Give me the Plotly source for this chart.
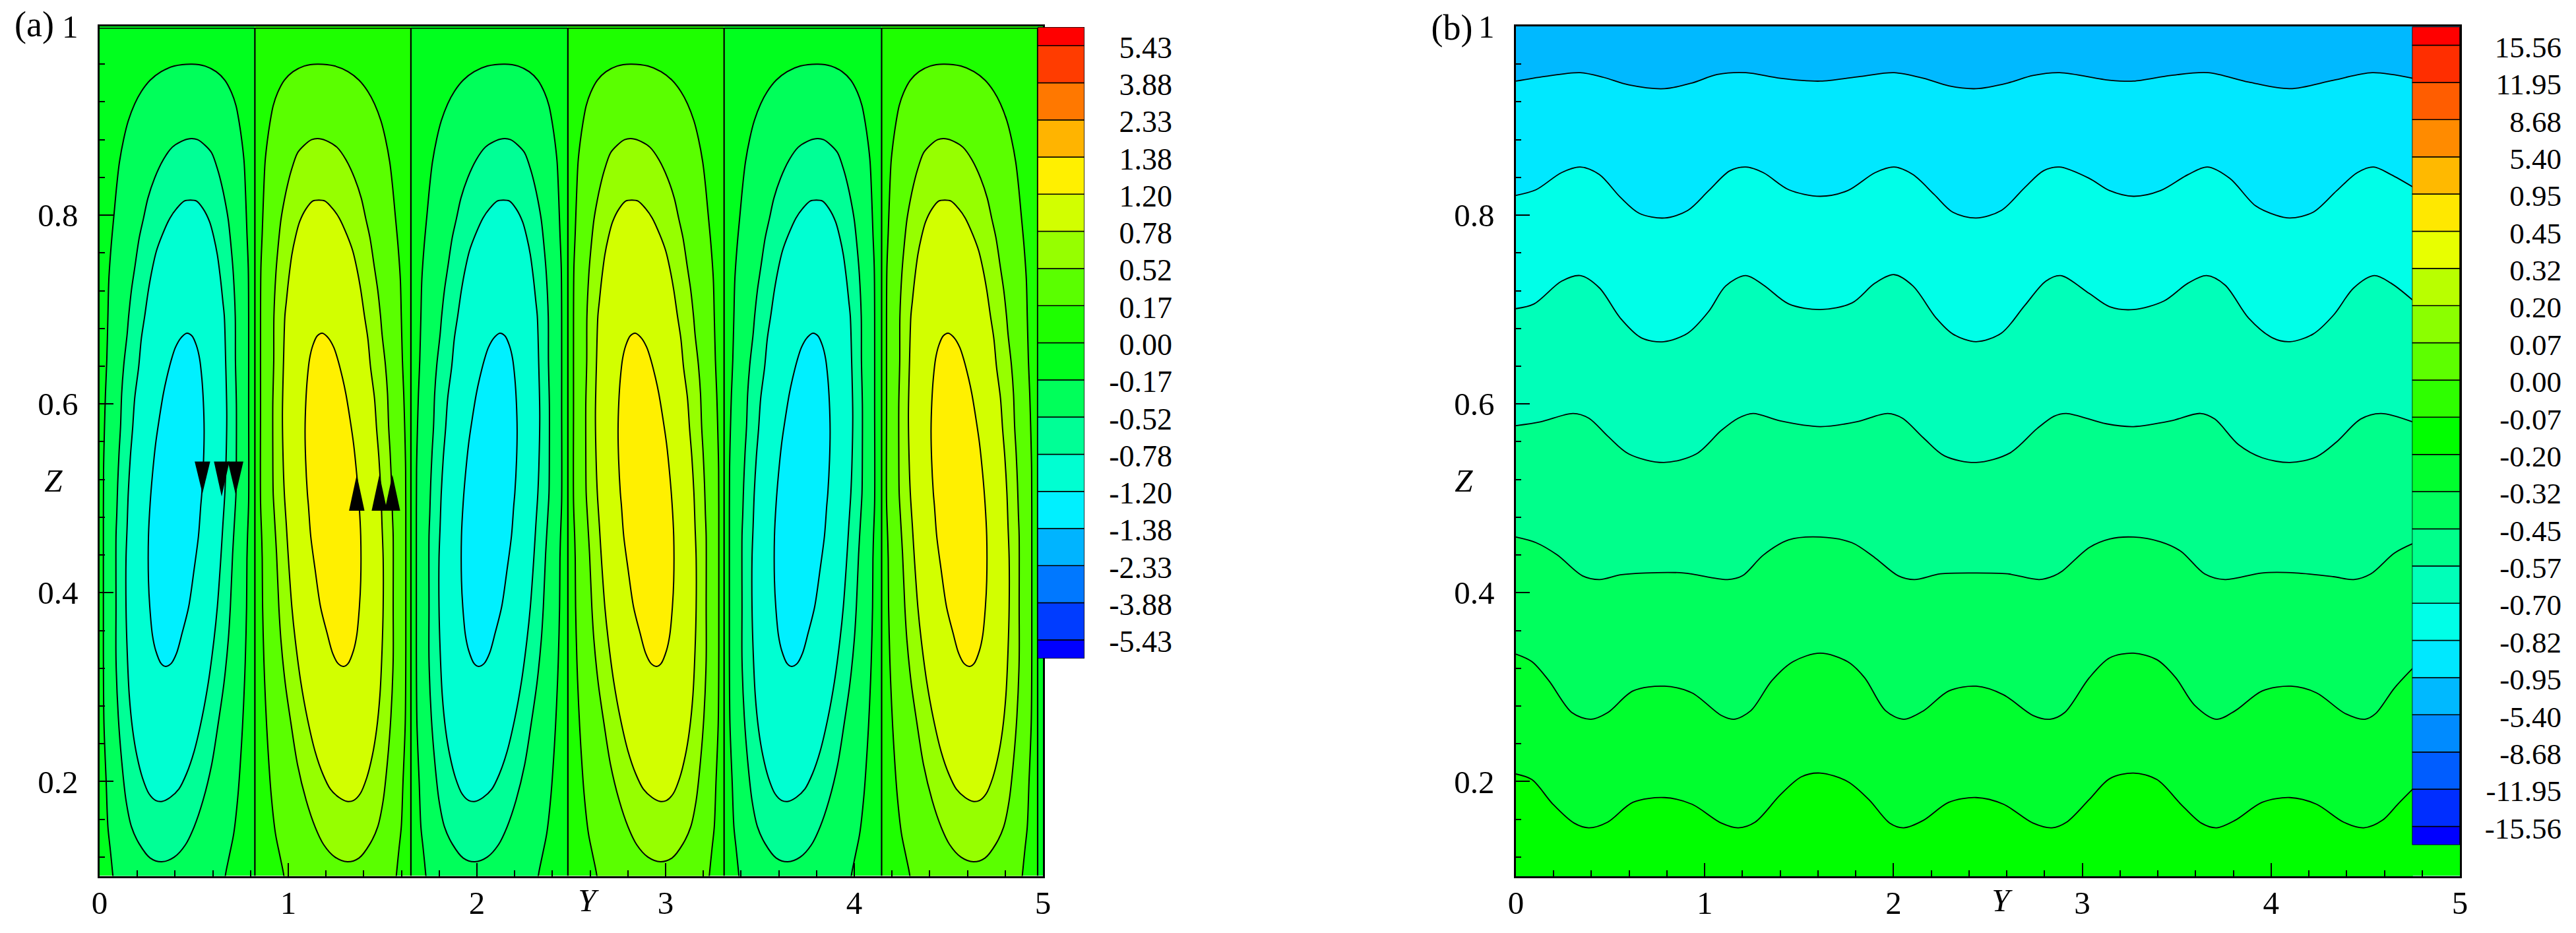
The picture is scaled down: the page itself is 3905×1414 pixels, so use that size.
import plotly.graph_objects as go

W, H = 3905, 1414

# ---------- panel (a): contour outlines (Y, Z) ----------
CELL_EDGES_A = [0.0, 0.823, 1.650, 2.482, 3.31, 4.145, 4.972, 5.0]
CELL_SHIFT_A = [0.0, 1.659, 3.318]
ZERO_TOP_A = 0.998

NEG_A = [(.076,.085),(.070,.101),(.056,.129),(.044,.152),(.035,.199),(.023,.262),(.020,.339),(.020,.385),(.020,.450),(.021,.530),(.026,.576),
         (.031,.611),(.038,.646),(.044,.693),(.049,.732),(.061,.767),(.076,.800),(.091,.832),(.105,.856),(.128,.881),(.152,.900),(.186,.918),
         (.221,.931),(.268,.943),(.326,.952),(.396,.958),(.490,.960),(.559,.958),(.618,.952),(.664,.943),(.699,.930),(.723,.916),(.740,.898),
         (.755,.877),(.766,.856),(.774,.821),(.781,.781),(.788,.744),(.790,.693),(.790,.600),(.790,.497),(.784,.460),(.781,.436),(.779,.385),
         (.772,.327),(.763,.281),(.752,.239),(.734,.187),(.711,.145),(.688,.122),(.667,.101),(.660,.085)]
NEG_B = [(.329,.115),(.268,.119),(.210,.134),(.169,.152),(.140,.180),(.117,.222),(.099,.269),(.087,.329),(.087,.385),(.087,.460),(.091,.483),
         (.096,.516),(.103,.548),(.111,.576),(.117,.611),(.128,.641),(.146,.674),(.154,.693),(.169,.721),(.186,.744),(.210,.776),(.233,.797),
         (.256,.818),(.291,.839),(.338,.859),(.385,.872),(.431,.878),(.478,.881),(.519,.880),(.559,.874),(.594,.866),(.629,.846),(.647,.832),
         (.664,.816),(.682,.795),(.699,.762),(.709,.737),(.719,.693),(.720,.646),(.725,.600),(.725,.553),(.723,.506),(.717,.483),(.705,.441),
         (.693,.385),(.682,.350),(.659,.304),(.629,.262),(.594,.218),(.548,.180),(.501,.152),(.455,.133),(.396,.120),(.329,.115)]
NEG_C = [(.332,.179),(.297,.180),(.262,.187),(.227,.204),(.198,.227),(.175,.255),(.157,.292),(.146,.339),(.140,.385),(.140,.436),(.146,.471),
         (.152,.506),(.163,.544),(.175,.574),(.186,.606),(.207,.639),(.221,.669),(.239,.693),(.259,.721),(.280,.744),(.301,.762),(.332,.779),
         (.373,.797),(.408,.807),(.449,.815),(.481,.816),(.513,.815),(.548,.807),(.583,.793),(.606,.776),(.624,.758),(.641,.732),(.653,.709),
         (.661,.693),(.668,.646),(.674,.588),(.670,.539),(.664,.506),(.653,.471),(.641,.432),(.624,.385),(.606,.350),(.577,.306),(.542,.267),
         (.501,.232),(.460,.208),(.420,.192),(.373,.183),(.332,.179)]
NEG_D = [(.350,.322),(.326,.325),(.297,.339),(.280,.355),(.266,.385),(.259,.413),(.259,.460),(.268,.495),(.280,.525),(.297,.558),(.315,.583),
         (.338,.611),(.355,.627),(.379,.646),(.402,.660),(.431,.670),(.463,.675),(.490,.672),(.513,.662),(.530,.648),(.542,.627),(.550,.602),
         (.554,.572),(.551,.541),(.542,.506),(.536,.492),(.524,.460),(.501,.425),(.472,.385),(.437,.357),(.408,.336),(.379,.325),(.350,.322)]
POS_A = [(1.567,.085),(1.573,.101),(1.587,.129),(1.599,.152),(1.608,.199),(1.620,.262),(1.623,.339),(1.623,.385),(1.623,.450),(1.622,.530),(1.617,.576),
         (1.612,.611),(1.605,.646),(1.599,.693),(1.594,.732),(1.582,.767),(1.567,.800),(1.552,.832),(1.538,.856),(1.515,.881),(1.491,.900),(1.457,.918),
         (1.422,.931),(1.375,.943),(1.317,.952),(1.247,.958),(1.153,.960),(1.084,.958),(1.025,.952),(.979,.943),(.944,.930),(.920,.916),(.903,.898),
         (.888,.877),(.877,.856),(.869,.821),(.862,.781),(.855,.744),(.853,.693),(.853,.600),(.853,.497),(.859,.460),(.862,.436),(.864,.385),
         (.871,.327),(.880,.281),(.891,.239),(.909,.187),(.932,.145),(.955,.122),(.976,.101),(.983,.085)]
POS_B = [(1.314,.115),(1.375,.119),(1.433,.134),(1.474,.152),(1.503,.180),(1.526,.222),(1.544,.269),(1.556,.329),(1.556,.385),(1.556,.460),(1.552,.483),
         (1.547,.516),(1.540,.548),(1.532,.576),(1.526,.611),(1.515,.641),(1.497,.674),(1.489,.693),(1.474,.721),(1.457,.744),(1.433,.776),(1.410,.797),
         (1.387,.818),(1.352,.839),(1.305,.859),(1.258,.872),(1.212,.878),(1.165,.881),(1.124,.880),(1.084,.874),(1.049,.866),(1.014,.846),(.996,.832),
         (.979,.816),(.961,.795),(.944,.762),(.934,.737),(.924,.693),(.923,.646),(.918,.600),(.918,.553),(.920,.506),(.926,.483),(.938,.441),
         (.950,.385),(.961,.350),(.984,.304),(1.014,.262),(1.049,.218),(1.095,.180),(1.142,.152),(1.188,.133),(1.247,.120),(1.314,.115)]
POS_C = [(1.311,.179),(1.346,.180),(1.381,.187),(1.416,.204),(1.445,.227),(1.468,.255),(1.486,.292),(1.497,.339),(1.503,.385),(1.503,.436),(1.497,.471),
         (1.491,.506),(1.480,.544),(1.468,.574),(1.457,.606),(1.436,.639),(1.422,.669),(1.404,.693),(1.384,.721),(1.363,.744),(1.342,.762),(1.311,.779),
         (1.270,.797),(1.235,.807),(1.194,.815),(1.162,.816),(1.130,.815),(1.095,.807),(1.060,.793),(1.037,.776),(1.019,.758),(1.002,.732),(.990,.709),
         (.982,.693),(.975,.646),(.969,.588),(.973,.539),(.979,.506),(.990,.471),(1.002,.432),(1.019,.385),(1.037,.350),(1.066,.306),(1.101,.267),
         (1.142,.232),(1.183,.208),(1.223,.192),(1.270,.183),(1.311,.179)]
POS_D = [(1.293,.322),(1.317,.325),(1.346,.339),(1.363,.355),(1.377,.385),(1.384,.413),(1.384,.460),(1.375,.495),(1.363,.525),(1.346,.558),(1.328,.583),
         (1.305,.611),(1.288,.627),(1.264,.646),(1.241,.660),(1.212,.670),(1.180,.675),(1.153,.672),(1.130,.662),(1.113,.648),(1.101,.627),(1.093,.602),
         (1.089,.572),(1.092,.541),(1.101,.506),(1.107,.492),(1.119,.460),(1.142,.425),(1.171,.385),(1.206,.357),(1.235,.336),(1.264,.325),(1.293,.322)]

ARROW_DOWN_Y = [0.545, 0.647, 0.721]
ARROW_DOWN_TIP = [0.505, 0.502, 0.504]
ARROW_DOWN_BASE = 0.539
ARROW_UP_Y = [1.363, 1.483, 1.552]
ARROW_UP_TIP = [0.525, 0.525, 0.525]
ARROW_UP_BASE = 0.487
ARROW_HALF = 0.041

LABELS_A = ["-5.43","-3.88","-2.33","-1.38","-1.20","-0.78","-0.52","-0.17","0.00","0.17","0.52","0.78","1.20","1.38","2.33","3.88","5.43"]
COLORS_A = ["#0000ff","#003cff","#0078ff","#00b4ff","#00f0ff","#00ffd2","#00ff96","#00ff5a","#00ff1e",
            "#1eff00","#5aff00","#96ff00","#d2ff00","#fff000","#ffb400","#ff7800","#ff3c00","#ff0000"]
NEG_BANDS = [8, 7, 6, 5, 4]
POS_BANDS = [9, 10, 11, 12, 13]

# ---------- panel (b): seven contour lines ----------
B1_Y = [0,0.152,0.341,0.464,0.598,0.787,0.932,1.066,1.218,1.401,1.612,1.824,2.003,2.159,2.293,2.438,2.605,2.739,2.880,3.145,3.271,3.468,3.666,3.881,4.10,4.33,4.536,4.75]
B1_Z = [0.942,0.947,0.951,0.946,0.938,0.934,0.940,0.949,0.951,0.945,0.942,0.947,0.951,0.945,0.937,0.934,0.940,0.948,0.951,0.943,0.942,0.948,0.951,0.941,0.934,0.943,0.951,0.945]
B2_Y = [0,0.107,0.241,0.341,0.442,0.553,0.653,0.787,0.910,1.021,1.133,1.218,1.311,1.445,1.612,1.757,1.902,2.003,2.103,2.215,2.315,2.438,2.571,2.694,2.794,2.880,3.037,3.145,3.271,3.414,3.56,3.663,3.781,3.917,4.025,4.10,4.222,4.348,4.456,4.542,4.635,4.75]
B2_Z = [0.821,0.827,0.845,0.851,0.843,0.819,0.802,0.797,0.805,0.826,0.847,0.851,0.845,0.827,0.820,0.826,0.845,0.851,0.843,0.822,0.803,0.797,0.805,0.829,0.847,0.851,0.839,0.826,0.820,0.826,0.843,0.851,0.839,0.810,0.800,0.797,0.803,0.826,0.845,0.851,0.843,0.830]
B3_Y = [0,0.096,0.241,0.341,0.442,0.553,0.665,0.783,0.910,1.021,1.111,1.218,1.311,1.445,1.612,1.780,1.902,2.003,2.103,2.226,2.315,2.438,2.571,2.694,2.806,2.885,3.037,3.145,3.271,3.432,3.56,3.658,3.756,3.881,4.008,4.10,4.222,4.33,4.438,4.546,4.635,4.75]
B3_Z = [0.701,0.706,0.730,0.736,0.723,0.691,0.670,0.666,0.675,0.698,0.725,0.736,0.726,0.706,0.700,0.707,0.728,0.737,0.725,0.691,0.674,0.666,0.675,0.704,0.730,0.736,0.717,0.703,0.700,0.709,0.728,0.736,0.726,0.691,0.670,0.666,0.674,0.694,0.723,0.736,0.728,0.710]
B4_Y = [0,0.129,0.303,0.386,0.486,0.598,0.783,0.955,1.088,1.178,1.256,1.401,1.612,1.802,1.969,2.047,2.159,2.270,2.438,2.616,2.761,2.850,2.915,3.127,3.271,3.468,3.626,3.702,3.827,3.953,4.10,4.24,4.348,4.474,4.581,4.75]
B4_Z = [0.577,0.581,0.590,0.585,0.566,0.547,0.538,0.547,0.572,0.585,0.590,0.582,0.576,0.581,0.590,0.585,0.564,0.545,0.538,0.548,0.574,0.587,0.590,0.579,0.576,0.582,0.590,0.584,0.557,0.543,0.538,0.544,0.560,0.584,0.590,0.581]
B5_Y = [0,0.107,0.219,0.352,0.442,0.553,0.687,0.888,1.122,1.200,1.311,1.445,1.612,1.780,1.902,2.025,2.110,2.248,2.427,2.605,2.772,2.850,2.894,3.037,3.145,3.271,3.414,3.522,3.648,3.756,3.953,4.133,4.33,4.438,4.528,4.653,4.75]
B5_Z = [0.459,0.453,0.440,0.418,0.414,0.419,0.421,0.421,0.414,0.418,0.440,0.456,0.459,0.453,0.437,0.418,0.414,0.420,0.421,0.420,0.414,0.418,0.423,0.448,0.457,0.459,0.454,0.444,0.420,0.414,0.421,0.421,0.417,0.414,0.420,0.442,0.452]
B6_Y = [0,0.085,0.174,0.297,0.397,0.486,0.62,0.787,0.932,1.088,1.155,1.244,1.356,1.468,1.612,1.757,1.847,1.958,2.054,2.159,2.293,2.438,2.582,2.739,2.828,2.906,3.037,3.145,3.271,3.396,3.495,3.594,3.711,3.81,3.953,4.106,4.24,4.393,4.497,4.554,4.653,4.75]
B6_Z = [0.335,0.327,0.307,0.273,0.266,0.273,0.296,0.301,0.294,0.270,0.266,0.275,0.307,0.327,0.336,0.327,0.310,0.275,0.266,0.275,0.296,0.301,0.292,0.270,0.266,0.273,0.310,0.331,0.336,0.329,0.310,0.281,0.266,0.275,0.296,0.301,0.294,0.272,0.266,0.272,0.299,0.320]
B7_Y = [0,0.085,0.196,0.308,0.386,0.486,0.62,0.787,0.932,1.088,1.178,1.267,1.401,1.512,1.612,1.757,1.869,1.98,2.054,2.159,2.293,2.438,2.582,2.739,2.839,2.917,3.037,3.145,3.271,3.396,3.522,3.63,3.711,3.81,3.953,4.10,4.24,4.384,4.491,4.59,4.671,4.75]
B7_Z = [0.208,0.202,0.176,0.156,0.151,0.157,0.178,0.183,0.176,0.156,0.151,0.157,0.186,0.205,0.209,0.200,0.181,0.156,0.151,0.159,0.178,0.183,0.176,0.156,0.151,0.157,0.181,0.203,0.209,0.202,0.176,0.156,0.151,0.159,0.178,0.183,0.176,0.157,0.151,0.159,0.176,0.192]

LABELS_B = ["-15.56","-11.95","-8.68","-5.40","-0.95","-0.82","-0.70","-0.57","-0.45","-0.32","-0.20","-0.07","0.00","0.07","0.20","0.32","0.45","0.95","5.40","8.68","11.95","15.56"]
COLORS_B = ["#0000ff","#002eff","#005dff","#008bff","#00b9ff","#00e8ff","#00ffe8","#00ffb9","#00ff8b","#00ff5d","#00ff2e","#00ff00",
            "#2eff00","#5dff00","#8bff00","#b9ff00","#e8ff00","#ffe800","#ffb900","#ff8b00","#ff5d00","#ff2e00","#ff0000"]
B_REGIONS = [4, 5, 6, 7, 8, 9, 10, 11]

X_TICKS = [0, 1, 2, 3, 4, 5]
Z_TICKS = [0.2, 0.4, 0.6, 0.8, 1]

# ---------- layout geometry (pixels) ----------
SERIF = "Liberation Serif"
TICK_PX = 49
A_BOX = dict(l=151, r=1581, t=40, b=1327.5)
B_BOX = dict(l=2298, r=3729, t=40, b=1327.5)
A_CB = dict(l=1573, r=1644, t=41, b=998, text_r=1777, size=46)
B_CB = dict(l=3656.5, r=3729, t=40.4, b=1280.6, text_r=3883, size=45)

fig = go.Figure()
LINE = dict(color="black", width=2)
NOL = dict(width=0)


def poly(ys, zs, fill, line=NOL, xa="x", ya="y", shape="linear"):
    ln = dict(line)
    ln["shape"] = shape
    if shape == "spline":
        ln["smoothing"] = 0.9
    fig.add_trace(go.Scatter(x=ys, y=zs, mode="lines", fill="toself", fillcolor=fill, line=ln,
                             xaxis=xa, yaxis=ya, hoverinfo="skip", showlegend=False))


# panel a : cell backgrounds
for i in range(len(CELL_EDGES_A) - 1):
    a, b = CELL_EDGES_A[i], CELL_EDGES_A[i + 1]
    col = COLORS_A[NEG_BANDS[0] if i % 2 == 0 else POS_BANDS[0]]
    poly([a, b, b, a, a], [0.1, 0.1, 1, 1, 0.1], col)

# panel a : nested contours
for shift in CELL_SHIFT_A:
    for pts, band in zip([NEG_A, NEG_B, NEG_C, NEG_D], NEG_BANDS[1:]):
        poly([p[0] + shift for p in pts], [p[1] for p in pts], COLORS_A[band], LINE, shape="spline")
    for pts, band in zip([POS_A, POS_B, POS_C, POS_D], POS_BANDS[1:]):
        poly([p[0] + shift for p in pts], [p[1] for p in pts], COLORS_A[band], LINE, shape="spline")

# panel a : zero contour
for e in CELL_EDGES_A[1:-1]:
    fig.add_trace(go.Scatter(x=[e, e], y=[0.1, ZERO_TOP_A], mode="lines", line=dict(color="black", width=2.2),
                             hoverinfo="skip", showlegend=False))
fig.add_trace(go.Scatter(x=[0, CELL_EDGES_A[-2]], y=[ZERO_TOP_A, ZERO_TOP_A], mode="lines", line=dict(color="black", width=1.5),
                         hoverinfo="skip", showlegend=False))

# panel a : arrows
for y, tip in zip(ARROW_DOWN_Y, ARROW_DOWN_TIP):
    poly([y - ARROW_HALF, y + ARROW_HALF, y, y - ARROW_HALF], [ARROW_DOWN_BASE, ARROW_DOWN_BASE, tip, ARROW_DOWN_BASE], "black")
for y, tip in zip(ARROW_UP_Y, ARROW_UP_TIP):
    poly([y - ARROW_HALF, y + ARROW_HALF, y, y - ARROW_HALF], [ARROW_UP_BASE, ARROW_UP_BASE, tip, ARROW_UP_BASE], "black")

# panel b : stacked regions
poly([0, 5, 5, 0, 0], [0.1, 0.1, 1, 1, 0.1], COLORS_B[B_REGIONS[0]], xa="x2", ya="y2")
B_LINES = [(B1_Y, B1_Z), (B2_Y, B2_Z), (B3_Y, B3_Z), (B4_Y, B4_Z), (B5_Y, B5_Z), (B6_Y, B6_Z), (B7_Y, B7_Z)]
for (ys, zs), band in zip(B_LINES, B_REGIONS[1:]):
    fig.add_trace(go.Scatter(x=ys, y=zs, mode="lines", fill="tozeroy", fillcolor=COLORS_B[band],
                             line=dict(color="black", width=1.8, shape="spline", smoothing=0.9),
                             xaxis="x2", yaxis="y2", hoverinfo="skip", showlegend=False))
poly([0, 5, 5, 0, 0], [0.1, 0.1, 0.14, 0.14, 0.1], COLORS_B[B_REGIONS[-1]], xa="x2", ya="y2")


# colour bars
def colorbar(labels, colors, xa, ya):
    n = len(labels)
    base = [-0.5] + list(range(n - 1)) + [n - 1]
    height = [0.5] + [1] * (n - 1) + [0.5]
    fig.add_trace(go.Bar(x=[0.5] * (n + 1), y=height, base=base, width=1,
                         marker=dict(color=colors, line=dict(color="black", width=1.5)),
                         xaxis=xa, yaxis=ya, hoverinfo="skip", showlegend=False))


colorbar(LABELS_A, COLORS_A, "x3", "y3")
colorbar(LABELS_B, COLORS_B, "x4", "y4")


def page_text(text, x, y, size, pos="middle center"):
    fig.add_trace(go.Scatter(x=x, y=y, text=text, mode="text", textposition=pos,
                             textfont=dict(family=SERIF, size=size, color="black"),
                             xaxis="x5", yaxis="y5", hoverinfo="skip", showlegend=False))


for labels, cb in ((LABELS_A, A_CB), (LABELS_B, B_CB)):
    n = len(labels)
    step = (cb["b"] - cb["t"]) / n
    page_text(labels, [cb["text_r"]] * n, [cb["b"] - step * (i + 0.5) + 7 for i in range(n)], cb["size"], "middle left")
page_text(["(a)", "(b)"], [52, 2201], [41, 46], 54)
page_text(["<i>Y</i>", "<i>Y</i>", "<i>Z</i>", "<i>Z</i>"], [890, 3033, 81, 2219], [1369, 1369, 733, 733], TICK_PX)


def xdom(b):
    return [b["l"] / W, b["r"] / W]


def ydom(b):
    return [1 - b["b"] / H, 1 - b["t"] / H]


def main_x(box):
    return dict(domain=xdom(box), range=[0, 5], tickvals=X_TICKS, ticks="inside", ticklen=20, tickwidth=2, tickcolor="black",
                showgrid=False, zeroline=False, showline=True, linecolor="black", linewidth=2.5, mirror=True, automargin=False,
                tickfont=dict(family=SERIF, size=TICK_PX, color="black"), ticklabelstandoff=-4,
                minor=dict(dtick=0.2, tick0=0, ticks="inside", ticklen=9, tickwidth=2, tickcolor="black", showgrid=False))


def main_z(box):
    return dict(domain=ydom(box), range=[0.1, 1], tickvals=Z_TICKS, ticks="inside", ticklen=21, tickwidth=2, tickcolor="black",
                showgrid=False, zeroline=False, showline=True, linecolor="black", linewidth=2.5, mirror=True, automargin=False,
                tickfont=dict(family=SERIF, size=TICK_PX, color="black"), ticklabelstandoff=20,
                minor=dict(dtick=0.04, tick0=0, ticks="inside", ticklen=8, tickwidth=2, tickcolor="black", showgrid=False))


def cb_x(cb):
    return dict(domain=xdom(cb), range=[0, 1], visible=False, fixedrange=True, automargin=False)


def cb_y(cb, n):
    return dict(domain=ydom(cb), range=[-0.5, n - 0.5], visible=False, fixedrange=True, automargin=False)


fig.update_layout(
    width=W, height=H, margin=dict(l=0, r=0, t=0, b=0), paper_bgcolor="white", plot_bgcolor="rgba(0,0,0,0)",
    barmode="overlay", showlegend=False,
    xaxis=dict(main_x(A_BOX), anchor="y"), yaxis=dict(main_z(A_BOX), anchor="x"),
    xaxis2=dict(main_x(B_BOX), anchor="y2"), yaxis2=dict(main_z(B_BOX), anchor="x2"),
    xaxis3=dict(cb_x(A_CB), anchor="y3"), yaxis3=dict(cb_y(A_CB, len(LABELS_A)), anchor="x3"),
    xaxis4=dict(cb_x(B_CB), anchor="y4"), yaxis4=dict(cb_y(B_CB, len(LABELS_B)), anchor="x4"),
    xaxis5=dict(domain=[0, 1], range=[0, W], visible=False, fixedrange=True, anchor="y5", automargin=False),
    yaxis5=dict(domain=[0, 1], range=[H, 0], visible=False, fixedrange=True, anchor="x5", automargin=False),
)

fig.write_html("out.html", config={"displayModeBar": False},
               post_script="document.body.style.margin='0';document.body.style.overflow='hidden';")
